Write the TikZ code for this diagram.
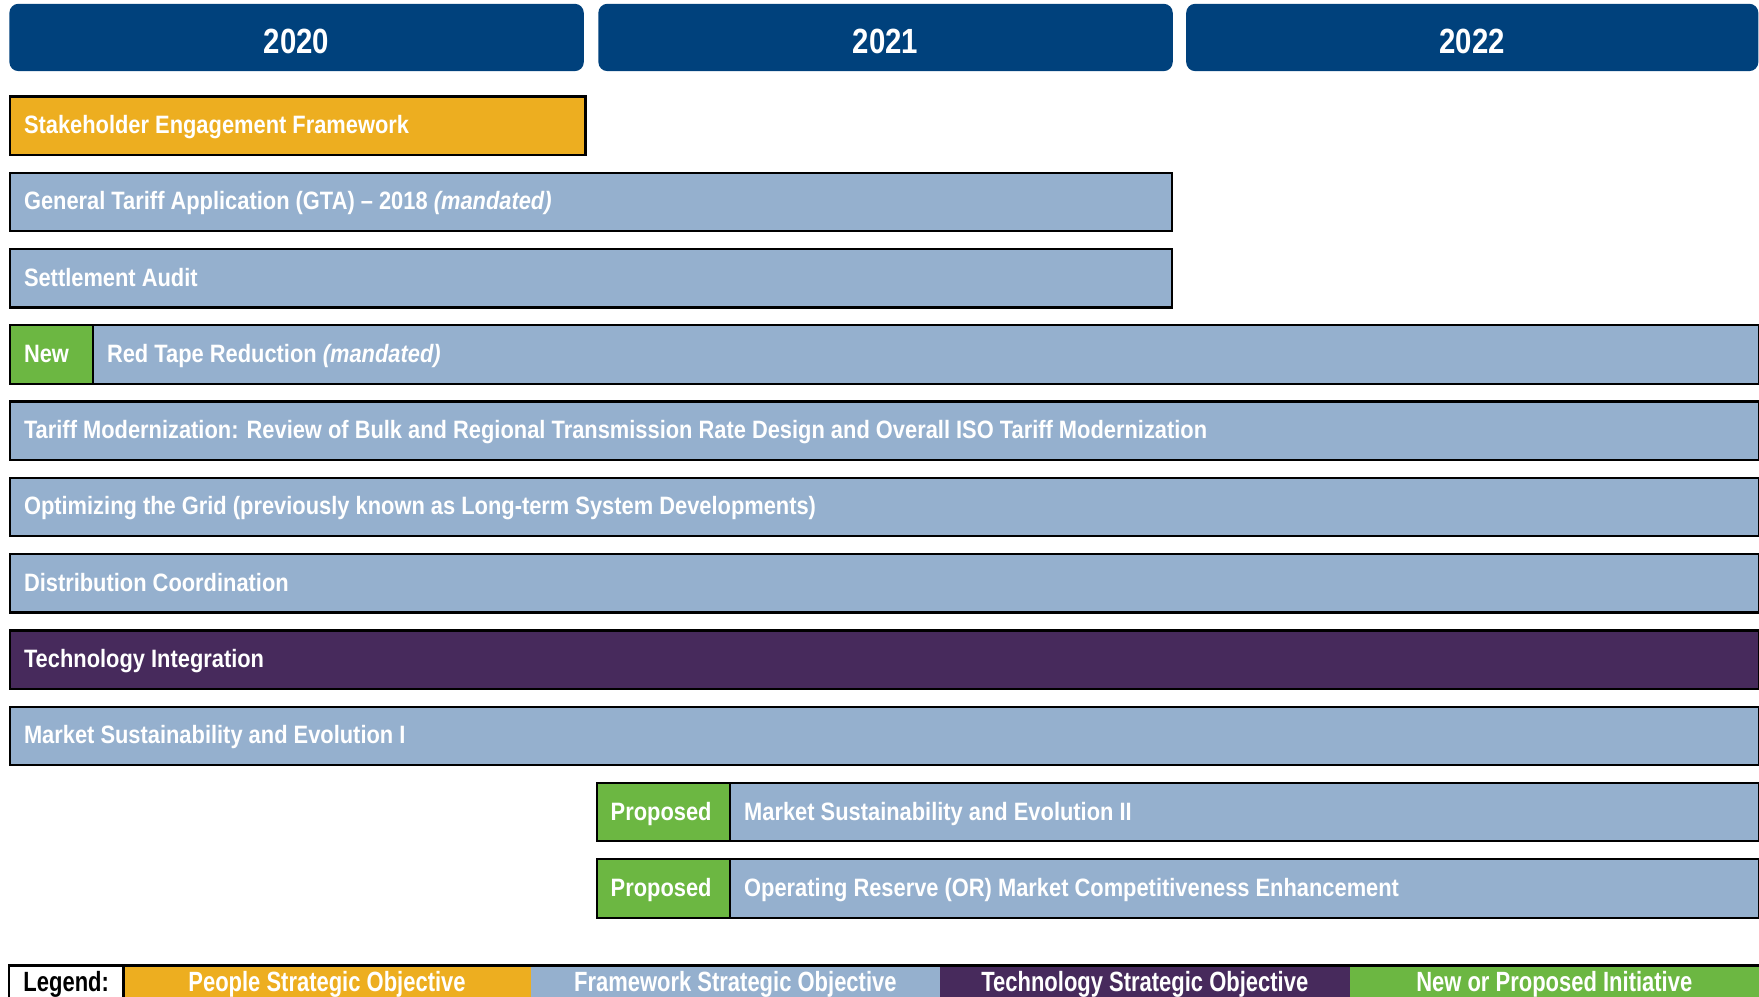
\documentclass[tikz,border=0pt]{standalone}
\usepackage{fontspec}
\setmainfont[FakeStretch=0.87]{Liberation Sans}
\newfontfamily\legfont[FakeStretch=0.79]{Liberation Sans}
\newfontfamily\hdrfont[FakeStretch=0.84]{Liberation Sans}
\definecolor{hdr}{RGB}{0,65,124}
\definecolor{ppl}{RGB}{237,174,32}
\definecolor{frm}{RGB}{149,176,206}
\definecolor{tec}{RGB}{71,42,92}
\definecolor{nwg}{RGB}{108,183,66}
\tikzset{
  hdrbox/.style={fill=hdr, draw=none, rounded corners=4pt, inner sep=0pt, anchor=north west},
  barbox/.style={draw=black, line width=1pt, inner sep=0pt, anchor=north west, minimum height=26pt},
  hdrtext/.style={text=white, font=\hdrfont\fontsize{15.6}{18}\selectfont\bfseries},
  rowtext/.style={text=white, font=\fontsize{11.2}{13}\selectfont\bfseries, inner sep=0pt, anchor=base west},
  legtext/.style={font=\legfont\fontsize{12.4}{14}\selectfont\bfseries, inner sep=0pt, anchor=base},
}
% name, x1, ytop, x2, fill, text
\newcommand\gbar[6]{%
  \node[barbox, fill=#5, minimum width={(#4-#2)*0.5pt}] (#1) at (#2,#3) {};
  \node[rowtext] (#1t) at (#2+13,#3+34) {#6};}
\newcommand\ghdr[4]{%
  \node[hdrbox, minimum width={(#3-#2)*0.5pt}, minimum height=30pt] (#1) at (#2,3) {};
  \node[hdrtext, yshift=-1.8pt] (#1t) at (#1.center) {#4};}
\begin{document}
\begin{tikzpicture}[x=0.5pt,y=-0.5pt]
\useasboundingbox (0,0) rectangle (1568,888);
\clip (0,0) rectangle (1568,888);
\ghdr{h1}{8}{520}{2020}
\ghdr{h2}{533}{1045}{2021}
\ghdr{h3}{1057}{1567}{2022}
\gbar{b1}{8}{85}{521}{ppl}{Stakeholder Engagement Framework}
\gbar{b2}{8}{153}{1044}{frm}{General Tariff Application (GTA) – 2018 \textit{(mandated)}}
\gbar{b3}{8}{221}{1044}{frm}{Settlement Audit}
\gbar{b4n}{8}{289}{82}{nwg}{New}
\gbar{b4}{82}{289}{1567}{frm}{Red Tape Reduction \textit{(mandated)}}
\gbar{b5}{8}{357}{1567}{frm}{Tariff Modernization: Review of Bulk and Regional Transmission Rate Design and Overall ISO Tariff Modernization}
\gbar{b6}{8}{425}{1567}{frm}{Optimizing the Grid (previously known as Long-term System Developments)}
\gbar{b7}{8}{493}{1567}{frm}{Distribution Coordination}
\gbar{b8}{8}{561}{1567}{tec}{Technology Integration}
\gbar{b9}{8}{629}{1567}{frm}{Market Sustainability and Evolution I}
\gbar{b10p}{531}{697}{650}{nwg}{Proposed}
\gbar{b10}{650}{697}{1567}{frm}{Market Sustainability and Evolution II}
\gbar{b11p}{531}{765}{650}{nwg}{Proposed}
\gbar{b11}{650}{765}{1567}{frm}{Operating Reserve (OR) Market Competitiveness Enhancement}
% legend
\path[fill=white] (8,861) rectangle (110,900);
\path[fill=ppl] (110,861) rectangle (473,900);
\path[fill=frm] (473,861) rectangle (838,900);
\path[fill=tec] (838,861) rectangle (1203,900);
\path[fill=nwg] (1203,861) rectangle (1568,900);
\draw[line width=1.3pt] (8,900) -- (8,861) -- (1568,861);
\draw[line width=1.3pt] (110,861) -- (110,900);
\node[legtext, text=black] (l0) at (59,884) {Legend:};
\node[legtext, text=white] (l1) at (291.5,884) {People Strategic Objective};
\node[legtext, text=white] (l2) at (655.5,884) {Framework Strategic Objective};
\node[legtext, text=white] (l3) at (1020.5,884) {Technology Strategic Objective};
\node[legtext, text=white] (l4) at (1385.5,884) {New or Proposed Initiative};
\end{tikzpicture}
\end{document}
